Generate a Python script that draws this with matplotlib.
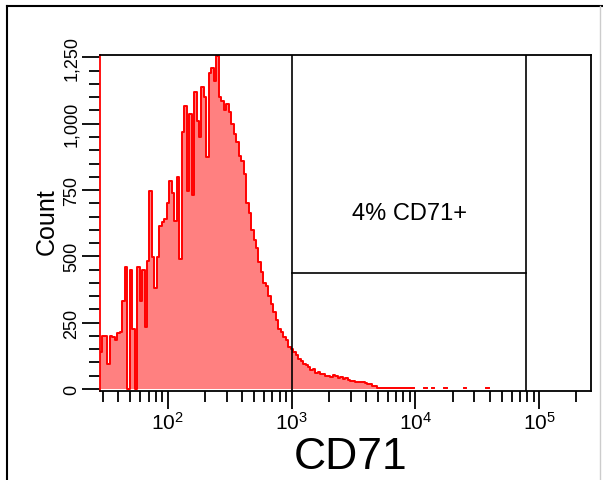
import matplotlib.pyplot as plt
import numpy as np
from matplotlib import font_manager
from matplotlib.lines import Line2D
from matplotlib.ticker import MultipleLocator, LogLocator, NullFormatter


# 通道计数（对数轴，每通道 0.02 decade，起点 10^1.453）
log_start = 1.453
bin_width = 0.02
counts = [
    140, 200, 200, 95, 200, 195, 185, 210, 215, 330,
    460, 0, 450, 225, 0, 460, 330, 450, 235, 482,
    745, 497, 380, 497, 615, 628, 640, 700, 783, 740,
    632, 800, 490, 970, 1065, 745, 1035, 733, 1118, 1010,
    950, 1137, 1100, 873, 1193, 1210, 1160, 1255, 1100, 1085,
    1050, 1075, 1045, 1000, 960, 930, 880, 860, 810, 700,
    665, 600, 560, 530, 480, 440, 400, 390, 350, 320,
    290, 260, 225, 215, 195, 185, 160, 150, 140, 130,
    112, 105, 95, 90, 82, 72, 75, 62, 66, 55,
    56, 48, 50, 45, 52, 48, 40, 45, 38, 40,
    34, 32, 30, 28, 28, 26, 26, 22, 20, 18,
    12, 10, 4, 3, 4, 3, 4, 3, 2, 4,
    3, 3, 2, 3, 4, 2, 3, 0, 0, 0,
    0, 2, 0, 0, 2, 0, 0, 0, 0, 2,
    0, 0, 0, 0, 0, 0, 0, 2, 0, 0,
    0, 0, 0, 0, 0, 0, 2,
]

# 门（gate）
gate_lo = 1000
gate_hi = 78000
gate_split = 437
gate_label = "4% CD71+"

x_major = [1e2, 1e3, 1e4, 1e5]
x_major_labels = [r"$\mathregular{10^{2}}$", r"$\mathregular{10^{3}}$",
                  r"$\mathregular{10^{4}}$", r"$\mathregular{10^{5}}$"]
y_major = [0, 250, 500, 750, 1000, 1250]
y_major_labels = ["0", "250", "500", "750", "1,000", "1,250"]

plt.rcParams["font.family"] = ["Liberation Sans", "DejaVu Sans"]
names = {f.name for f in font_manager.fontManager.ttflist}
narrow = "Liberation Sans Narrow" if "Liberation Sans Narrow" in names else "Liberation Sans"

fig = plt.figure(figsize=(6.03, 4.81), dpi=100)
ax = fig.add_axes([100 / 603, 89 / 481, 491 / 603, 336 / 481])

vals = np.array(counts, dtype=float)
edges = 10 ** (log_start + bin_width * np.arange(len(vals) + 1))

# 填充 + 轮廓
ax.fill_between(edges, np.append(vals, 0), 0, step="post", color="#ff8080", lw=0)
line_vals = vals.copy()
line_vals[(vals == 0) & (np.arange(len(vals)) > 100)] = np.nan
ax.step(edges, np.append(line_vals, np.nan), where="post", color="#ff0000", lw=1.4)

# 门线
ax.axvline(gate_lo, color="black", lw=1.2)
ax.axvline(gate_hi, color="black", lw=1.2)
ax.plot([gate_lo, gate_hi], [gate_split, gate_split], color="black", lw=1.2)
ax.text(np.sqrt(gate_lo * gate_hi) * 1.01, 663, gate_label, ha="center", va="center",
        fontsize=17)

ax.set_xscale("log")
ax.set_xlim(28.4, 262144)
ax.set_ylim(-7.5, 1259)

ax.set_xticks(x_major, x_major_labels, fontfamily=narrow, fontsize=15)
ax.xaxis.set_minor_locator(LogLocator(base=10, subs=np.arange(2, 10)))
ax.xaxis.set_minor_formatter(NullFormatter())
ax.set_yticks(y_major, y_major_labels, rotation=90, va="center",
              fontfamily=narrow, fontsize=13)
ax.yaxis.set_minor_locator(MultipleLocator(50))

ax.tick_params(which="major", direction="out", length=13, width=1.3, pad=1.5)
ax.tick_params(which="minor", direction="out", length=8, width=1.3)

for s in ax.spines.values():
    s.set_linewidth(1.3)
ax.spines["left"].set_color("#ff0000")

ax.set_xlabel("CD71", fontsize=32)
ax.xaxis.set_label_coords(0.511, -0.195)
ax.xaxis.label.set_va("center")
ax.set_ylabel("Count", fontsize=18)
ax.yaxis.set_label_coords(-0.108, 0.506)
ax.yaxis.label.set_va("center")

# 外框
fig.add_artist(Line2D([7 / 603, 7 / 603], [0, 1 - 7 / 481], color="black", lw=1.5,
                      transform=fig.transFigure))
fig.add_artist(Line2D([7 / 603, 1], [1 - 7 / 481, 1 - 7 / 481], color="black", lw=1.5,
                      transform=fig.transFigure))
fig.add_artist(Line2D([600 / 603, 600 / 603], [0, 1 - 7 / 481], color="#cccccc", lw=1,
                      transform=fig.transFigure))

plt.savefig("out.png", dpi=100)
